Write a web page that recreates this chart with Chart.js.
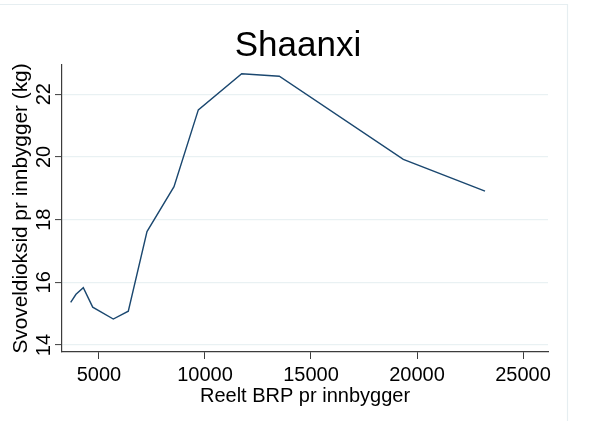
<!DOCTYPE html>
<html>
<head>
<meta charset="utf-8">
<script src="https://cdn.jsdelivr.net/npm/chart.js@4/dist/chart.umd.min.js"></script>
<style>
  html, body { margin: 0; padding: 0; background: #ffffff; }
  #wrap { width: 596px; height: 421px; }
</style>
</head>
<body>
<div id="wrap"><canvas id="c" width="596" height="421"></canvas></div>
<script>
// Real GDP per capita (x) and sulphur dioxide per capita in kg (y), Shaanxi
const gdpPerCapita = [3665, 3915, 4260, 4703, 5675, 6382, 7264, 8538, 9685, 11731, 13505, 19355, 23208];
const so2PerCapita = [15.36, 15.62, 15.83, 15.21, 14.83, 15.08, 17.62, 19.05, 21.50, 22.65, 22.57, 19.92, 18.91];

const xTickValues = [5000, 10000, 15000, 20000, 25000];
const yTickValues = [14, 16, 18, 20, 22];

const chartTitle = 'Shaanxi';
const xAxisTitle = 'Reelt BRP pr innbygger';
const yAxisTitle = 'Svoveldioksid pr innbygger (kg)';

const points = gdpPerCapita.map((x, i) => ({ x: x, y: so2PerCapita[i] }));

const FONT = '"Liberation Sans", Arial, Helvetica, sans-serif';
const AXIS_COLOR = '#3c3c3c';
const GRID_COLOR = '#e9f1f3';
const LINE_COLOR = '#1a476f';

// Titles, tick labels and the faint outer frame are drawn here
const labelsPlugin = {
  id: 'stataLabels',
  afterDraw(chart) {
    const ctx = chart.ctx;
    const xs = chart.scales.x;
    const ys = chart.scales.y;
    const area = chart.chartArea;
    const midX = (area.left + area.right) / 2;
    const midY = (area.top + area.bottom) / 2;

    ctx.save();
    // outer frame
    ctx.strokeStyle = '#e6eef1';
    ctx.lineWidth = 1.2;
    ctx.beginPath();
    ctx.moveTo(-2, 4.5);
    ctx.lineTo(567.5, 4.5);
    ctx.lineTo(567.5, 425);
    ctx.stroke();

    ctx.fillStyle = '#000000';
    ctx.textBaseline = 'alphabetic';

    // title
    ctx.font = '35px ' + FONT;
    ctx.textAlign = 'center';
    ctx.fillText(chartTitle, 298, 56);

    // x tick labels
    ctx.font = '20px ' + FONT;
    xTickValues.forEach(v => {
      ctx.fillText(String(v), xs.getPixelForValue(v), 381);
    });

    // x axis title
    ctx.fillText(xAxisTitle, midX, 402);

    // y tick labels, rotated
    yTickValues.forEach(v => {
      ctx.save();
      ctx.translate(50, ys.getPixelForValue(v));
      ctx.rotate(-Math.PI / 2);
      ctx.textAlign = 'center';
      ctx.fillText(String(v), 0, 0);
      ctx.restore();
    });

    // y axis title, rotated
    ctx.save();
    ctx.font = '20.8px ' + FONT;
    ctx.translate(26.5, midY);
    ctx.rotate(-Math.PI / 2);
    ctx.textAlign = 'center';
    ctx.fillText(yAxisTitle, 0, 0);
    ctx.restore();

    ctx.restore();
  }
};

new Chart(document.getElementById('c'), {
  type: 'line',
  data: {
    datasets: [{
      data: points,
      borderColor: LINE_COLOR,
      borderWidth: 1.4,
      pointRadius: 0,
      fill: false,
      tension: 0
    }]
  },
  options: {
    responsive: false,
    animation: false,
    devicePixelRatio: 1,
    layout: { padding: { left: 0, top: 65, right: 48, bottom: 0 } },
    plugins: {
      legend: { display: false },
      tooltip: { enabled: false },
      title: { display: false }
    },
    scales: {
      x: {
        type: 'linear',
        min: 3255,
        max: 26179,
        afterBuildTicks(scale) { scale.ticks = xTickValues.map(v => ({ value: v })); },
        afterFit(scale) { scale.height = 69; },
        ticks: { display: false },
        grid: {
          display: true,
          drawOnChartArea: false,
          drawTicks: true,
          tickLength: 7,
          tickColor: AXIS_COLOR,
          tickWidth: 1
        },
        border: { display: true, color: AXIS_COLOR, width: 1.2 }
      },
      y: {
        type: 'linear',
        min: 13.78,
        max: 22.93,
        afterBuildTicks(scale) { scale.ticks = yTickValues.map(v => ({ value: v })); },
        afterFit(scale) { scale.width = 62; },
        ticks: { display: false },
        grid: {
          display: true,
          drawOnChartArea: true,
          color: GRID_COLOR,
          lineWidth: 1.2,
          drawTicks: true,
          tickLength: 7,
          tickColor: AXIS_COLOR,
          tickWidth: 1
        },
        border: { display: true, color: AXIS_COLOR, width: 1.2 }
      }
    }
  },
  plugins: [labelsPlugin]
});
</script>
</body>
</html>
